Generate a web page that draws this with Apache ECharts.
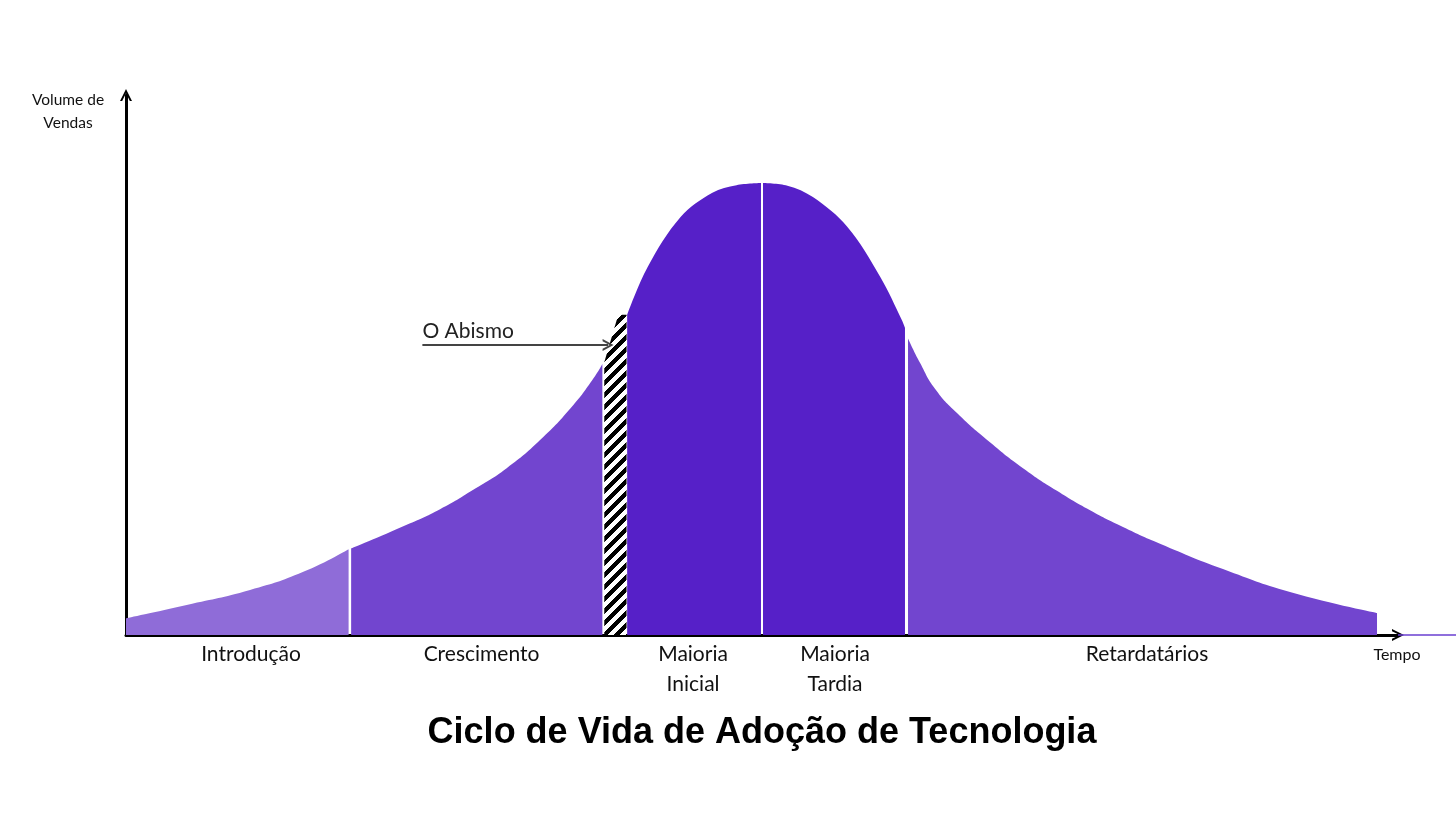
<!DOCTYPE html>
<html>
<head>
<meta charset="utf-8">
<script src="https://cdn.jsdelivr.net/npm/echarts@6/dist/echarts.min.js"></script>
<style>html,body{margin:0;padding:0;background:#fff;}#c{width:1456px;height:819px;}</style>
</head>
<body>
<div id="c"></div>
<script>
// ---- data (time 0-100, volume 0-100) ----
const introducao = [[0,3.1],[4.77,5.56],[9.75,8.33],[13.94,11.7],[17.5,15.9]];
const crescimento = [[17.7,16.0],[22.07,20.4],[24.69,23.3],[27.3,26.9],[29.93,30.9],[32.55,36.1],[35.17,42.6],[36.74,47.5],[37.45,50.2]];
const abismo = [[37.6,50.5],[38.7,59.3],[39.35,59.3]];
const maioriaInicial = [[39.4,59.3],[41.0,68.1],[43.6,77.4],[46.1,81.9],[48.0,83.3],[49.92,83.7]];
const maioriaTardia = [[50.08,83.7],[52.0,83.2],[54.0,81.1],[56.7,75.6],[59.3,66.3],[61.0,58.3],[61.24,56.9]];
const retardatarios = [[61.48,54.9],[62.42,50.4],[63.6,45.6],[65.33,41.1],[67.92,35.7],[70.52,30.9],[73.19,26.7],[75.79,23.1],[78.38,20.0],[81.29,16.9],[86.24,12.2],[91.51,7.96],[98.35,4.07]];
const stageNames = ['Introdução','Crescimento','Maioria\nInicial','Maioria\nTardia','Retardatários'];
const stageLabelX = [9.83, 27.95, 44.58, 55.74, 80.27];
const abismoArrow = [[23.3,53.7],[37.9,53.7]];

// ---- hatch pattern ----
function makeHatch(){
  const s = 12;
  const cv = document.createElement('canvas');
  cv.width = s; cv.height = s;
  const ctx = cv.getContext('2d');
  const img = ctx.createImageData(s, s);
  for (let y = 0; y < s; y++) for (let x = 0; x < s; x++) {
    const black = ((x + y) % s) < s / 2;
    const i = (y * s + x) * 4;
    const v = black ? 0 : 255;
    img.data[i] = v; img.data[i+1] = v; img.data[i+2] = v; img.data[i+3] = 255;
  }
  ctx.putImageData(img, 0, 0);
  return cv;
}

const cLight = '#8f6cd8', cMid = '#7245cf', cDark = '#5620c8';
const chevUp = 'path://M0,10 L5,0 L10,10 L8.2,10 L5,3.6 L1.8,10 Z';

function areaSeries(name, data, color, smooth){
  return {
    name, type: 'line', data, smooth: smooth,
    symbol: 'none', lineStyle: {width: 0},
    areaStyle: {color: color, opacity: 1}, silent: true, z: 2
  };
}

const chart = echarts.init(document.getElementById('c'));
const series = [
  areaSeries('Introdução', introducao, cLight, 0.5),
  areaSeries('Crescimento', crescimento, cMid, 0.5),
  Object.assign(areaSeries('O Abismo', abismo, {image: makeHatch(), repeat: 'repeat'}, false), {
    markLine: {
      silent: true, animation: false,
      symbol: ['none', chevUp], symbolSize: [12, 11],
      lineStyle: {color: '#444', width: 2, type: 'solid'},
      label: {show: true, position: 'insideStartTop', formatter: 'O Abismo', color: '#222',
              fontFamily: 'Lato', fontSize: 21, distance: [0, 3]},
      data: [[{coord: abismoArrow[0]}, {coord: abismoArrow[1]}]]
    }
  }),
  areaSeries('Maioria Inicial', maioriaInicial, cDark, 0.35),
  areaSeries('Maioria Tardia', maioriaTardia, cDark, 0.35),
  areaSeries('Retardatários', retardatarios, cMid, 0.5)
];

chart.setOption({
  animation: false,
  backgroundColor: '#fff',
  grid: {left: 126, right: 58, top: 95, bottom: 184},
  xAxis: {
    type: 'value', min: 0, max: 100,
    splitLine: {show: false},
    axisTick: {show: false},
    axisLine: {show: true, onZero: false, lineStyle: {color: '#000', width: 3},
               symbol: ['none', chevUp], symbolSize: [14, 12]},
    axisLabel: {
      show: true, customValues: stageLabelX, margin: 4, hideOverlap: false,
      color: '#111', fontFamily: 'Lato', fontSize: 21, lineHeight: 30,
      formatter: function(v){
        let best = 0, d = 1e9;
        stageLabelX.forEach((x, i) => { if (Math.abs(x - v) < d) { d = Math.abs(x - v); best = i; } });
        return stageNames[best];
      }
    }
  },
  yAxis: {
    type: 'value', min: 0, max: 100,
    splitLine: {show: false}, axisTick: {show: false}, axisLabel: {show: false},
    axisLine: {show: true, lineStyle: {color: '#000', width: 3},
               symbol: ['none', chevUp], symbolSize: [14, 12]}
  },
  graphic: [
    {type: 'text', x: 68, y: 99, z: 10,
     style: {text: 'Volume de\nVendas', fontFamily: 'Lato', fontSize: 15.5, lineHeight: 23, fill: '#111', align: 'center', verticalAlign: 'top', y: -11}},
    {type: 'text', x: 1397, y: 655, z: 10,
     style: {text: 'Tempo', fontFamily: 'Lato', fontSize: 16, fill: '#111', align: 'center', verticalAlign: 'middle'}},
    {type: 'text', x: 762, y: 733, z: 10,
     style: {text: 'Ciclo de Vida de Adoção de Tecnologia', fontFamily: 'Liberation Sans', fontWeight: 'bold', fontSize: 36, fill: '#000', align: 'center', verticalAlign: 'middle'}},
    {type: 'line', z: 1, shape: {x1: 1398, y1: 635, x2: 1456, y2: 635},
     style: {stroke: '#6a3fd0', lineWidth: 1.5}}
  ],
  series: series
});
</script>
</body>
</html>
